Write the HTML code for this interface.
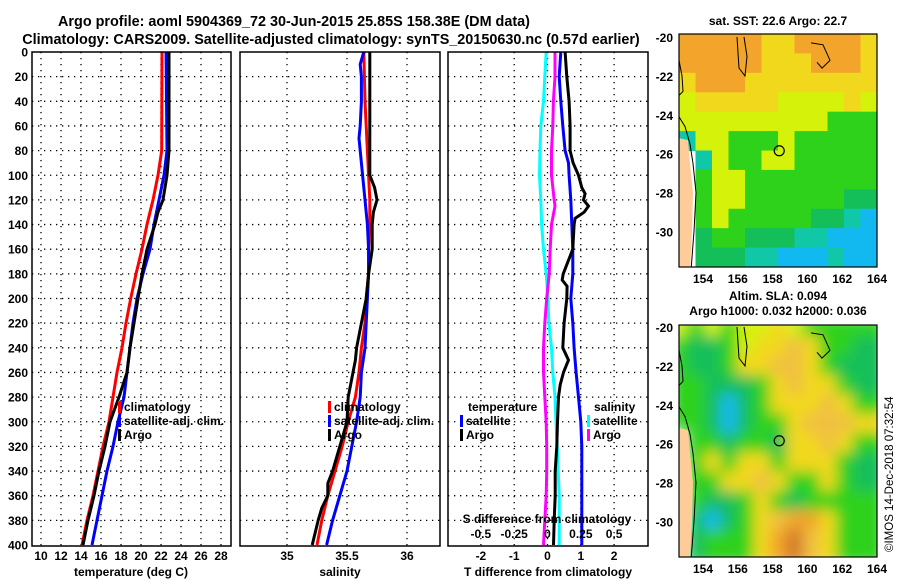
<!DOCTYPE html>
<html><head><meta charset="utf-8"><style>
html,body{margin:0;padding:0;background:#fff;}
svg{display:block;font-family:"Liberation Sans",Arial,sans-serif;font-weight:bold;}
</style></head><body>
<svg id="fig" width="900" height="580" viewBox="0 0 900 580" xmlns="http://www.w3.org/2000/svg">
<defs>
<clipPath id="c1"><rect x="32" y="52" width="199" height="494"/></clipPath>
<clipPath id="c2"><rect x="240" y="52" width="200" height="494"/></clipPath>
<clipPath id="c3"><rect x="448" y="52" width="200" height="494"/></clipPath>
<clipPath id="cm1"><rect x="679" y="34" width="198" height="233"/></clipPath>
<clipPath id="cm2"><rect x="679" y="325" width="198" height="232"/></clipPath>
<filter id="blur" x="-5%" y="-5%" width="110%" height="110%"><feGaussianBlur stdDeviation="7"/></filter>
</defs>
<text x="294" y="26" font-size="14.4" text-anchor="middle">Argo profile: aoml 5904369_72 30-Jun-2015 25.85S 158.38E (DM data)</text>
<text x="331" y="44" font-size="14.4" text-anchor="middle">Climatology: CARS2009. Satellite-adjusted climatology: synTS_20150630.nc (0.57d earlier)</text>
<text x="778" y="25" font-size="12" text-anchor="middle">sat. SST: 22.6 Argo: 22.7</text>
<text x="778" y="300" font-size="12" text-anchor="middle">Altim. SLA: 0.094</text>
<text x="778" y="315" font-size="12" text-anchor="middle">Argo h1000: 0.032 h2000: 0.036</text>
<text transform="translate(893,552) rotate(-90)" font-size="11.5" font-weight="normal">©IMOS 14-Dec-2018 07:32:54</text>
<g id="plots"></g>
</svg>
<script>
// ---- depth axis ----
const depthTicks = [0,20,40,60,80,100,120,140,160,180,200,220,240,260,280,300,320,340,360,380,400];
// ---- temperature panel ----
const tTicks = [10,12,14,16,18,20,22,24,26,28];
const climTDepth = [0,80,100,120,140,160,180,200,220,240,260,280,300,320,340,360,380,400];
const climT      = [22.1,22.07,21.7,21.2,20.6,20.1,19.5,18.97,18.5,18.1,17.6,17.2,16.8,16.2,15.7,15.2,14.6,14.1];
const satTDepth  = [0,80,100,120,140,160,180,200,220,240,260,280,300,320,340,360,380,400];
const satT       = [22.5,22.6,22.3,21.8,21.3,20.9,20.2,19.6,19.2,18.9,18.6,18.3,17.7,17.2,16.6,16.1,15.6,15.1];
const argoTDepth = [0,80,100,120,130,140,160,180,200,220,240,260,280,300,320,340,360,380,400];
const argoT      = [22.8,22.8,22.6,22.2,21.7,21.4,20.6,20.1,19.7,19.3,18.9,18.6,17.8,16.9,16.4,15.8,15.3,14.7,14.2];
// ---- salinity panel ----
const sTicks = [35,35.5,36];
const climSDepth = [0,40,80,100,120,140,160,180,200,220,240,260,280,300,320,340,360,380,400];
const climS      = [35.64,35.65,35.67,35.68,35.69,35.69,35.68,35.68,35.66,35.65,35.62,35.6,35.57,35.51,35.46,35.4,35.34,35.29,35.25];
const satSDepth  = [0,10,20,40,60,70,80,100,120,140,160,180,200,220,240,260,280,300,320,340,360,380,400];
const satS       = [35.64,35.61,35.62,35.62,35.61,35.6,35.61,35.63,35.65,35.67,35.68,35.68,35.67,35.66,35.65,35.62,35.61,35.58,35.54,35.5,35.44,35.38,35.33];
const argoSDepth = [0,100,110,120,130,140,160,180,200,220,240,250,260,280,300,320,340,350,360,370,380,400];
const argoS      = [35.69,35.69,35.73,35.75,35.72,35.71,35.71,35.68,35.66,35.62,35.58,35.57,35.55,35.51,35.5,35.44,35.38,35.34,35.34,35.29,35.26,35.21];
// ---- difference panel ----
const dTTicks = [-2,-1,0,1,2];
const dSTicks = ["-0.5","-0.25","0","0.25","0.5"];
const dSTickVals = [-0.5,-0.25,0,0.25,0.5];
const satdTDepth = [0,20,40,60,80,90,100,120,140,160,180,200,220,240,260,280,300,320,400];
const satdT      = [0.4,0.35,0.4,0.46,0.53,0.63,0.65,0.7,0.73,0.76,0.76,0.7,0.76,0.8,0.86,0.93,1.0,1.03,1.03];
const argodTDepth = [0,20,40,60,80,90,100,110,115,120,125,130,135,140,160,180,185,190,200,220,240,250,260,270,280,300,320,340,360,380,400];
const argodT      = [0.53,0.58,0.65,0.68,0.68,0.77,0.93,1.03,1.13,1.08,1.23,1.1,0.83,0.8,0.76,0.47,0.44,0.59,0.58,0.5,0.46,0.63,0.48,0.38,0.33,0.3,0.28,0.23,0.23,0.2,0.18];
const satdSDepth = [0,20,40,60,80,100,120,140,160,180,200,220,240,260,280,300,320,340,360,380,400];
const satdS      = [-0.01,-0.02,-0.03,-0.05,-0.056,-0.06,-0.05,-0.044,-0.03,-0.01,0.004,0.01,0.03,0.04,0.056,0.064,0.073,0.08,0.088,0.088,0.088];
const argodSDepth = [0,20,40,60,80,100,120,125,140,160,180,200,220,240,260,280,300,320,340,360,380,400];
const argodS      = [0.056,0.056,0.044,0.04,0.03,0.03,0.05,0.056,0.03,0.02,0.013,-0.006,-0.02,-0.03,-0.03,-0.02,-0.01,-0.006,-0.006,-0.01,-0.02,-0.03];
// ---- map grids (colour codes) ----
const lonTicks = [154,156,158,160,162,164];
const latTicks = [-20,-22,-24,-26,-28,-30];
const argoLon = 158.38, argoLat = -25.85;
const sstGrid = ["OOOOOYYOOOOY","OOOOOYYYOOOY","YOOOYYYYYYYY","LYYYYYLLLLYL","LLLLLLLLLGGG","TLLGGGLGGGGG","PTLGGLLGGGGG","PGLLGGGGGGGG","PGLLGGGGGGDD","PGLGGGGGDDTC","PDGGDDDTTCCC","PDDDTTCCCTCC"];
const slaGrid = ["LGLGLLYLGGGG","GDDGLYYyYGGD","GDDGYYyyYGDD","GGDDDGYyYYGD","GGDCDGYYYyYG","PGDCDGGYyyyY","PGGDGGDYYyYG","PGYGYYGYYYGD","PGGYYyYGGYGD","PGDDGYGDGGGG","PDCDGYyOOYGG","PDGGGYORyYGG"];
const palette = {O:"#f2a52a",Y:"#f2d81c",y:"#f0c040",L:"#d4f20a",G:"#2ed21a",D:"#14bf5a",T:"#10c8a8",C:"#12b8f0",B:"#1060ff",P:"#ffcc99",R:"#d2782a"};

const NS="http://www.w3.org/2000/svg";
const root=document.getElementById('plots');
function mk(tag,attrs,parent){const e=document.createElementNS(NS,tag);for(const k in attrs)e.setAttribute(k,attrs[k]);(parent||root).appendChild(e);return e;}
const Y0=52, YS=1.2325, YB=546;
const yDepth=d=>Y0+d*YS;
const panels=[
 {x0:32,x1:231,clip:'c1',fx:v=>41+(v-10)*10,name:'temperature'},
 {x0:240,x1:440,clip:'c2',fx:v=>287+(v-35)*120,name:'salinity'},
 {x0:448,x1:648,clip:'c3',fx:v=>547.5+v*33.3,name:'difference'}];
const fxS=v=>547.5+v*133.3;

function grid(p,xticks){
  const g=mk('g',{});
  
  
  depthTicks.forEach(d=>{ if(d>0&&d<400) mk('line',{x1:p.x0,x2:p.x1,y1:yDepth(d),y2:yDepth(d),stroke:'#000','stroke-width':1.3,'stroke-dasharray':'1.3 4.7'},g);});
  xticks.forEach(v=>{const x=p.fx(v); mk('line',{x1:x,x2:x,y1:Y0,y2:YB,stroke:'#000','stroke-width':1.3,'stroke-dasharray':'1.3 4.7'},g);});
}
function frame(p){
  const r=mk('rect',{x:p.x0,y:Y0,width:p.x1-p.x0,height:YB-Y0,fill:'none',stroke:'#000','stroke-width':1.5});
  
  
}
function line(p,depths,vals,fx,color,name){
  const pts=depths.map((d,i)=>fx(vals[i]).toFixed(1)+','+yDepth(d).toFixed(1)).join(' ');
  const e=mk('polyline',{points:pts,fill:'none',stroke:color,'stroke-width':3,'clip-path':'url(#'+p.clip+')'});
  
  
}
function txt(x,y,s,attrs,name){
  const e=mk('text',Object.assign({x:x,y:y,'font-size':12},attrs||{}));
  e.textContent=s;
  
  
  return e;
}
function legendEntry(x,y,color,label,name){
  const b=mk('rect',{x:x,y:y-10,width:3,height:12,fill:color});
  
  
  txt(x+6,y,label,{},name);
}

grid(panels[0],tTicks);
grid(panels[1],sTicks);
grid(panels[2],dTTicks);

depthTicks.forEach(d=>{ txt(28,yDepth(d)+4.5,String(d),{'text-anchor':'end'},'depth-tick-label'); });
tTicks.forEach(v=>txt(panels[0].fx(v),560,String(v),{'text-anchor':'middle'},'temperature-tick-label'));
sTicks.forEach(v=>txt(panels[1].fx(v),560,String(v),{'text-anchor':'middle'},'salinity-tick-label'));
dTTicks.forEach(v=>txt(panels[2].fx(v),560,String(v),{'text-anchor':'middle'},'t-diff-tick-label'));
txt(131,576,'temperature (deg C)',{'text-anchor':'middle'},'temperature-axis-title');
txt(340,576,'salinity',{'text-anchor':'middle'},'salinity-axis-title');
txt(548,576,'T difference from climatology',{'text-anchor':'middle'},'t-diff-axis-title');

line(panels[0],climTDepth,climT,panels[0].fx,'#ff0000','climatology-temperature-line');
line(panels[0],satTDepth,satT,panels[0].fx,'#0000ff','satellite-temperature-line');
line(panels[0],argoTDepth,argoT,panels[0].fx,'#000000','argo-temperature-line');
line(panels[1],climSDepth,climS,panels[1].fx,'#ff0000','climatology-salinity-line');
line(panels[1],satSDepth,satS,panels[1].fx,'#0000ff','satellite-salinity-line');
line(panels[1],argoSDepth,argoS,panels[1].fx,'#000000','argo-salinity-line');
line(panels[2],satdSDepth,satdS,fxS,'#00ffff','satellite-s-diff-line');
line(panels[2],argodSDepth,argodS,fxS,'#ff00ff','argo-s-diff-line');
line(panels[2],satdTDepth,satdT,panels[2].fx,'#0000ff','satellite-t-diff-line');
line(panels[2],argodTDepth,argodT,panels[2].fx,'#000000','argo-t-diff-line');

panels.forEach(frame);

legendEntry(118,411,'#ff0000','climatology','legend-climatology-t');
legendEntry(118,425,'#0000ff','satellite-adj. clim.','legend-satellite-t');
legendEntry(118,439,'#000000','Argo','legend-argo-t');
legendEntry(328,411,'#ff0000','climatology','legend-climatology-s');
legendEntry(328,425,'#0000ff','satellite-adj. clim.','legend-satellite-s');
legendEntry(328,439,'#000000','Argo','legend-argo-s');
txt(468,411,'temperature',{},'legend-temperature-heading');
legendEntry(460,425,'#0000ff','satellite','legend-t-diff-satellite');
legendEntry(460,439,'#000000','Argo','legend-t-diff-argo');
txt(594,411,'salinity',{},'legend-salinity-heading');
legendEntry(587,425,'#00ffff','satellite','legend-s-diff-satellite');
legendEntry(587,439,'#ff00ff','Argo','legend-s-diff-argo');
txt(547,523,'S difference from climatology',{'text-anchor':'middle'},'s-diff-axis-title');
dSTicks.forEach((s,i)=>txt(fxS(dSTickVals[i]),538,s,{'text-anchor':'middle'},'s-diff-tick-label'));

function drawMap(gridRows,x0,y0,w,h,clip,blur,name,latY0){
  const g=mk('g',{'clip-path':'url(#'+clip+')'});
  
  
  const inner=mk('g',blur?{filter:'url(#blur)'}:{},g);
  const nr=gridRows.length,nc=gridRows[0].length,cw=w/nc,ch=h/nr;
  gridRows.forEach((row,r)=>{[...row].forEach((c,ci)=>{
    if(c==='P') return;
    mk('rect',{x:x0+ci*cw-(blur?8:0),y:y0+r*ch-(blur?8:0),width:cw+(blur?16:0.6),height:ch+(blur?16:0.6),fill:palette[c]},inner);
  });});
  const lx=v=>679+(v-152.62)*17.4, ly=v=>latY0+(-20-v)*19.45;
  mk('polygon',{points:[[679,ly(-25.2)],[688,ly(-25.3)],[690,ly(-26.5)],[693,ly(-28)],[692,ly(-30)],[690,ly(-32)],[679,ly(-32)]].map(p=>p.join(',')).join(' '),fill:'#ffcc99'},g);
  mk('polyline',{points:[[679,ly(-24.1)],[685,ly(-24.6)],[690,ly(-25.5)],[693,ly(-26.5)],[696,ly(-28)],[694,ly(-30)],[691,ly(-32)]].map(p=>p.join(',')).join(' '),fill:'none',stroke:'#000','stroke-width':1},g);
  mk('polyline',{points:[[679,ly(-21.2)],[682,ly(-22)],[683,ly(-22.8)],[679,ly(-23)]].map(p=>p.join(',')).join(' '),fill:'none',stroke:'#000','stroke-width':1},g);
  mk('polyline',{points:[[737,ly(-20)],[739,ly(-21.6)],[745,ly(-22)],[747,ly(-21)],[744,ly(-20)]].map(p=>p.join(',')).join(' '),fill:'none',stroke:'#000','stroke-width':1},g);
  mk('polyline',{points:[[811,ly(-20.3)],[823,ly(-20.4)],[830,ly(-21.2)],[822,ly(-21.6)],[817,ly(-21.3)]].map(p=>p.join(',')).join(' '),fill:'none',stroke:'#000','stroke-width':1},g);
  const c=mk('circle',{cx:lx(argoLon),cy:ly(argoLat),r:5,fill:'none',stroke:'#000','stroke-width':1.2});
  
  
  const f=mk('rect',{x:x0,y:y0,width:w,height:h,fill:'none',stroke:'#000','stroke-width':1.2});
  
  
  lonTicks.forEach(v=>txt(lx(v),y0+h+16,String(v),{'text-anchor':'middle'},name+'-lon-label'));
  latTicks.forEach(v=>txt(673,ly(v)+5,String(v),{'text-anchor':'end'},name+'-lat-label'));
}
drawMap(sstGrid,679,34,198,233,'cm1',false,'sst-map',37);
drawMap(slaGrid,679,325,198,232,'cm2',true,'sla-map',327);
</script>
</body></html>
